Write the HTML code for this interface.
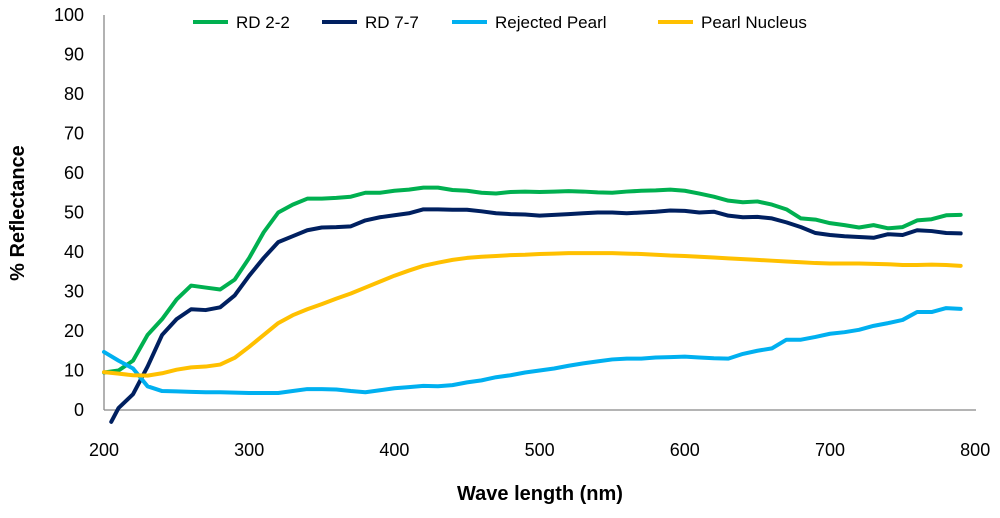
<!DOCTYPE html>
<html><head><meta charset="utf-8"><style>
body{margin:0;background:#fff;}
svg text{font-family:"Liberation Sans",sans-serif;}
</style></head><body>
<svg id="chart" width="1000" height="513">
<g id="axes"></g><g id="series"></g><g id="legend"></g>
<text x="540" y="500" text-anchor="middle" font-size="20" font-weight="bold" fill="#000">Wave length (nm)</text>
<text transform="translate(24,213) rotate(-90)" text-anchor="middle" font-size="20" font-weight="bold" fill="#000">% Reflectance</text>
</svg>
<script>
const wavelengths=[200,210,220,230,240,250,260,270,280,290,300,310,320,330,340,350,360,370,380,390,400,410,420,430,440,450,460,470,480,490,500,510,520,530,540,550,560,570,580,590,600,610,620,630,640,650,660,670,680,690,700,710,720,730,740,750,760,770,780,790];
const rd22=[9.5,10,12.5,19,23,28,31.5,31,30.5,33,38.5,45,50,52,53.5,53.5,53.7,54,55,55,55.5,55.8,56.3,56.3,55.7,55.5,55,54.8,55.2,55.3,55.2,55.3,55.4,55.3,55.1,55,55.3,55.5,55.6,55.8,55.5,54.8,54,53,52.6,52.8,52,50.8,48.5,48.2,47.3,46.8,46.2,46.8,46,46.3,48,48.3,49.3,49.4];
const rd77=[-3,0.5,4,11,19,23,25.5,25.3,26,29,34,38.5,42.5,44,45.5,46.2,46.3,46.5,48,48.8,49.3,49.8,50.8,50.8,50.7,50.7,50.3,49.8,49.6,49.5,49.2,49.4,49.6,49.8,50,50,49.8,50,50.2,50.5,50.4,50,50.2,49.2,48.8,48.9,48.5,47.5,46.3,44.8,44.3,44,43.8,43.6,44.5,44.3,45.5,45.3,44.8,44.7];
const rejected=[14.7,12.5,10.5,6,4.8,4.7,4.6,4.5,4.5,4.4,4.3,4.3,4.3,4.8,5.3,5.3,5.2,4.8,4.5,5,5.5,5.8,6.1,6,6.3,7,7.5,8.3,8.8,9.5,10,10.5,11.2,11.8,12.3,12.8,13,13,13.3,13.4,13.5,13.3,13.1,13,14.2,15,15.6,17.8,17.8,18.5,19.3,19.7,20.3,21.3,22,22.8,24.8,24.8,25.8,25.6];
const nucleus=[9.6,9.2,8.8,8.7,9.3,10.2,10.8,11,11.5,13.2,16,19,22,24,25.5,26.8,28.2,29.5,31,32.5,34,35.3,36.5,37.3,38,38.5,38.8,39,39.2,39.3,39.5,39.6,39.7,39.7,39.7,39.7,39.6,39.5,39.3,39.1,39,38.8,38.6,38.4,38.2,38,37.8,37.6,37.4,37.2,37.1,37.1,37.1,37,36.9,36.7,36.7,36.8,36.7,36.5];
const xTicks=[200,300,400,500,600,700,800];
const yTicks=[0,10,20,30,40,50,60,70,80,90,100];
const seriesNames=["RD 2-2","RD 7-7","Rejected Pearl","Pearl Nucleus"];
const NS="http://www.w3.org/2000/svg";
const xs=v=>104+(v-200)*1.452;
const ys=v=>410-v*3.95;
function mk(tag,attrs,parent){const e=document.createElementNS(NS,tag);for(const k in attrs)e.setAttribute(k,attrs[k]);parent.appendChild(e);return e;}
const axes=document.getElementById('axes');
let yl=mk('line',{x1:104,y1:ys(100),x2:104,y2:410,stroke:'#888','stroke-width':1.3},axes);


let xl=mk('line',{x1:104,y1:410,x2:976,y2:410,stroke:'#888','stroke-width':1.3},axes);


yTicks.forEach(t=>{const e=mk('text',{x:84,y:ys(t)+6,'text-anchor':'end','font-size':18,fill:'#000'},axes);e.textContent=t;

});
xTicks.forEach(t=>{const e=mk('text',{x:xs(t),y:456,'text-anchor':'middle','font-size':18,fill:'#000'},axes);e.textContent=t;

});
const colors=['#00b050','#002060','#00b0f0','#ffc000'];
const data=[rd22,rd77,rejected,nucleus];
const sg=document.getElementById('series');
data.forEach((arr,i)=>{
  const pts=arr.map((v,j)=>xs(wavelengths[j]+(i==1&&j==0?5:0))+','+ys(v)).join(' ');
  const p=mk('polyline',{points:pts,fill:'none',stroke:colors[i],'stroke-width':4,'stroke-linejoin':'round','stroke-linecap':'round'},sg);
  
  
});
const lg=document.getElementById('legend');
const lx=[193,322,452,658];
seriesNames.forEach((n,i)=>{
  const g=mk('g',{},lg);
  
  
  mk('line',{x1:lx[i],y1:22,x2:lx[i]+35,y2:22,stroke:colors[i],'stroke-width':4},g);
  const t=mk('text',{x:lx[i]+43,y:28,'font-size':17,fill:'#000'},g);t.textContent=n;
});
</script>
</body></html>
